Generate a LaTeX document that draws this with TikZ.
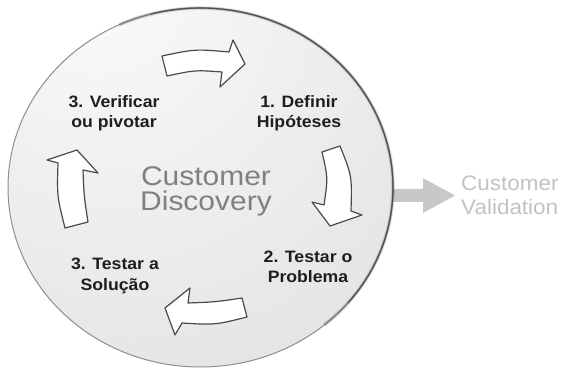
\documentclass[tikz,border=0pt]{standalone}
\usepackage{fontspec}
\setmainfont{Liberation Sans}
\usetikzlibrary{shapes.geometric}

\definecolor{disclight}{HTML}{FBFBFB}
\definecolor{discmid}{HTML}{E7E7E7}
\definecolor{discdark}{HTML}{CFCFCF}
\definecolor{discedge}{HTML}{C4C4C4}
\definecolor{rimgray}{HTML}{8E8E8E}
\definecolor{rimdark}{HTML}{505050}
\definecolor{outline}{HTML}{4A4A4A}
\definecolor{labelink}{HTML}{1E1E1E}
\definecolor{coreink}{HTML}{808080}
\definecolor{nextgray}{HTML}{C8C8C8}
\definecolor{nextink}{HTML}{C2C2C2}

\pgfdeclareradialshading{discshade}{\pgfpoint{-15bp}{30bp}}{%
  color(0bp)=(disclight); color(40bp)=(discmid);
  color(80bp)=(discdark); color(100bp)=(discedge)}

\tikzset{
  steplabel/.style={font=\bfseries\fontsize{16.5}{20.5}\selectfont,
    align=center, text=labelink, inner sep=0pt, xscale=1.07},
  cyclearrow/.style={fill=white, draw=outline, line width=1.2pt,
    line join=round},
}

\begin{document}
\begin{tikzpicture}[x=1pt, y=-1pt]
  \useasboundingbox (0,0) rectangle (563,371);

  % pale arrow leading on to the next stage
  \fill[nextgray] (370,189) -- (423,189) -- (423,178) -- (455,195.5)
    -- (423,213) -- (423,202) -- (370,202) -- cycle;

  % the disc
  \node[ellipse, minimum width=385pt, minimum height=359pt, inner sep=0pt,
    shade, shading=discshade, draw=rimgray, line width=1pt]
    (disc) at (200.5,187.5) {};
  % darker rim on the lower right
  \draw[rimdark, line width=4pt, opacity=0.12]
    (200.5,187.5) ++(-50:192.5pt and 179.5pt)
    arc[start angle=-50, end angle=115, x radius=192.5pt, y radius=179.5pt];
  \draw[rimdark, line width=2.4pt, opacity=0.3]
    (200.5,187.5) ++(-50:192.5pt and 179.5pt)
    arc[start angle=-50, end angle=115, x radius=192.5pt, y radius=179.5pt];
  \draw[rimdark, line width=1.2pt]
    (200.5,187.5) ++(-40:192.5pt and 179.5pt)
    arc[start angle=-40, end angle=105, x radius=192.5pt, y radius=179.5pt];

  % four curved arrows of the cycle
  \draw[cyclearrow] (162,56) .. controls (195,49) .. (229,52)
    -- (233,40) -- (245,64) -- (220,87) -- (222,72)
    .. controls (195,70) .. (167,76) -- cycle;
  \draw[cyclearrow] (340,146) .. controls (352,176) .. (351,211)
    -- (362,215) -- (330,226) -- (312,202) -- (324,205)
    .. controls (328,178) .. (322,152) -- cycle;
  \draw[cyclearrow] (242,298) .. controls (215,302) .. (188,303)
    -- (190,288) -- (165,308) -- (175,335) -- (182,323)
    .. controls (215,325) .. (247,317) -- cycle;
  \draw[cyclearrow] (65,228) .. controls (57,196) .. (58,163)
    -- (47,160) -- (77,150) -- (98,173) -- (83,170)
    .. controls (84,196) .. (88,222) -- cycle;

  % texts
  \node[font=\fontsize{27}{25}\selectfont, align=center, text=coreink,
    inner sep=0pt, xscale=1.11] (core) at (206,191) {Customer\\Discovery};
  \node[steplabel] (define) at (299,113) {1. Definir\\Hipóteses};
  \node[steplabel] (problem) at (308,267) {2. Testar o\\Problema};
  \node[steplabel] (solution) at (115,276) {3. Testar a\\Solução};
  \node[steplabel] (pivot) at (114,113) {3. Verificar\\ou pivotar};
  \node[font=\fontsize{21}{24}\selectfont, align=left, text=nextink,
    inner sep=0pt, xscale=1.07, anchor=west] (validation) at (461,195)
    {Customer\\Validation};
\end{tikzpicture}
\end{document}
